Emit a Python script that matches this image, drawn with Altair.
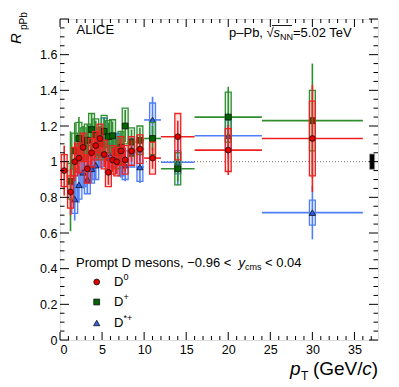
import altair as alt
import pandas as pd

# ---------------- data ----------------
# D0
d0_lo = [0, 1, 1.5, 2, 2.5, 3, 3.5, 4, 4.5, 5, 5.5, 6, 6.5, 7, 7.5, 8, 9, 10, 12, 16, 24]
d0_hi = [1, 1.5, 2, 2.5, 3, 3.5, 4, 4.5, 5, 5.5, 6, 6.5, 7, 7.5, 8, 9, 10, 12, 16, 24, 36]
d0_r = [0.95, 0.83, 1.00, 1.02, 1.08, 0.96, 1.05, 1.09, 1.13, 1.04, 0.94, 1.01, 1.00, 1.06, 1.01, 1.06, 1.07, 1.02, 1.14, 1.065, 1.13]
d0_stat = [0.14, 0.13, 0.11, 0.09, 0.08, 0.08, 0.07, 0.07, 0.07, 0.07, 0.07, 0.07, 0.07, 0.07, 0.07, 0.06, 0.07, 0.06, 0.09, 0.14, 0.30]
d0_sys = [0.09, 0.09, 0.08, 0.08, 0.08, 0.08, 0.08, 0.08, 0.08, 0.08, 0.08, 0.08, 0.08, 0.08, 0.08, 0.08, 0.08, 0.09, 0.13, 0.12, 0.21]

# D+
dp_lo = [1, 1.5, 2, 2.5, 3, 3.5, 4, 4.5, 5, 5.5, 6, 6.5, 7, 7.5, 8, 9, 10, 12, 16, 24]
dp_hi = [1.5, 2, 2.5, 3, 3.5, 4, 4.5, 5, 5.5, 6, 6.5, 7, 7.5, 8, 9, 10, 12, 16, 24, 36]
dp_r = [0.89, 1.06, 1.13, 1.10, 1.12, 1.18, 1.15, 1.10, 1.17, 1.14, 1.145, 1.05, 1.08, 1.20, 1.11, 1.12, 1.13, 0.96, 1.25, 1.23]
dp_stat = [0.28, 0.16, 0.12, 0.10, 0.09, 0.09, 0.08, 0.08, 0.08, 0.08, 0.08, 0.08, 0.09, 0.09, 0.07, 0.07, 0.07, 0.07, 0.17, 0.32]
dp_sys = [0.10, 0.10, 0.09, 0.09, 0.09, 0.09, 0.09, 0.09, 0.09, 0.09, 0.09, 0.09, 0.09, 0.10, 0.08, 0.08, 0.09, 0.09, 0.14, 0.17]

# D*+
ds_lo = [1.5, 2, 2.5, 3, 3.5, 4, 4.5, 5, 5.5, 6, 6.5, 7, 7.5, 8, 9, 10, 12, 16, 24]
ds_hi = [2, 2.5, 3, 3.5, 4, 4.5, 5, 5.5, 6, 6.5, 7, 7.5, 8, 9, 10, 12, 16, 24, 36]
ds_r = [0.79, 0.87, 0.94, 0.90, 0.96, 0.98, 1.05, 1.165, 1.02, 1.05, 1.08, 1.00, 0.98, 1.05, 0.97, 1.234, 0.997, 1.145, 0.714]
ds_stat = [0.12, 0.10, 0.09, 0.08, 0.08, 0.08, 0.08, 0.08, 0.08, 0.08, 0.08, 0.09, 0.09, 0.08, 0.09, 0.13, 0.13, 0.13, 0.15]
ds_sys = [0.08, 0.08, 0.08, 0.08, 0.08, 0.08, 0.08, 0.08, 0.08, 0.08, 0.08, 0.08, 0.08, 0.08, 0.08, 0.095, 0.065, 0.09, 0.07]

# normalisation uncertainty box
norm_lo, norm_hi = [36.8], [37.4]
norm_r, norm_err = [1.0], [0.043]

# axis ticks
x_major = [0, 5, 10, 15, 20, 25, 30, 35]
x_minor = [v for v in range(1, 38) if v % 5 != 0]
y_major = [0, 0.2, 0.4, 0.6, 0.8, 1.0, 1.2, 1.4, 1.6]
y_minor = [round(0.05 * k, 2) for k in range(1, 36) if k % 4 != 0]

# ---------------- layout / style ----------------
W, H = 318, 321
XMAX, YMAX = 37.8, 1.8
FONT = "Liberation Sans"
xs = alt.Scale(domain=[0, XMAX], nice=False, zero=False)
ys = alt.Scale(domain=[0, YMAX], nice=False, zero=False)
xax = alt.Axis(values=x_major, format="~g", ticks=False, tickSize=0, domain=False, grid=False,
               labelFont=FONT, labelFontSize=12.5, labelColor="black", labelPadding=3, title=None)
yax = alt.Axis(values=y_major, format="~g", ticks=False, tickSize=0, domain=False, grid=False,
               labelFont=FONT, labelFontSize=12.5, labelColor="black", labelPadding=3, title=None)

HALF_BOX = 0.35


def species(lo, hi, r, stat, sys, color, mfill, shape, msize):
    df = pd.DataFrame({"lo": lo, "hi": hi, "r": r, "stat": stat, "sys": sys})
    base = alt.Chart(df).transform_calculate(
        c="(datum.lo + datum.hi) / 2",
        bl=f"(datum.lo + datum.hi) / 2 - {HALF_BOX}",
        br=f"(datum.lo + datum.hi) / 2 + {HALF_BOX}",
        sl="datum.r - datum.sys", sh="datum.r + datum.sys",
        el="datum.r - datum.stat", eh="datum.r + datum.stat",
    )
    box = base.mark_rect(fill=color, fillOpacity=0.12, stroke=color, strokeWidth=1.3).encode(
        x=alt.X("bl:Q", scale=xs, axis=xax), x2="br:Q",
        y=alt.Y("sl:Q", scale=ys, axis=yax), y2="sh:Q")
    vline = base.mark_rule(color=color, strokeWidth=1.6).encode(
        x=alt.X("c:Q", scale=xs, axis=xax),
        y=alt.Y("el:Q", scale=ys, axis=yax), y2="eh:Q")
    hline = base.mark_rule(color=color, strokeWidth=1.6).encode(
        x=alt.X("lo:Q", scale=xs, axis=xax), x2="hi:Q",
        y=alt.Y("r:Q", scale=ys, axis=yax))
    pts = base.mark_point(shape=shape, filled=True, fill=mfill, stroke="#111111", strokeWidth=0.8,
                          opacity=1, size=msize).encode(
        x=alt.X("c:Q", scale=xs, axis=xax), y=alt.Y("r:Q", scale=ys, axis=yax))
    return [box, vline, hline, pts]


RED, RED_M = "#f02020", "#e00000"
GREEN, GREEN_M = "#2f8f2f", "#006400"
BLUE, BLUE_M = "#4f7ff5", "#2f5fe8"

layers = []

# reference line at 1
one = alt.Chart(pd.DataFrame({"v": [1.0]})).mark_rule(color="#777777", strokeDash=[1, 2], strokeWidth=1).encode(
    y=alt.Y("v:Q", scale=ys, axis=yax))
layers.append(one)

layers += species(ds_lo, ds_hi, ds_r, ds_stat, ds_sys, BLUE, BLUE_M, "triangle-up", 40)
layers += species(dp_lo, dp_hi, dp_r, dp_stat, dp_sys, GREEN, GREEN_M, "square", 34)
layers += species(d0_lo, d0_hi, d0_r, d0_stat, d0_sys, RED, RED_M, "circle", 34)

# normalisation box
ndf = pd.DataFrame({"lo": norm_lo, "hi": norm_hi, "r": norm_r, "e": norm_err})
layers.append(alt.Chart(ndf).transform_calculate(a="datum.r - datum.e", b="datum.r + datum.e")
              .mark_rect(fill="black", stroke="#999999", strokeWidth=0.8)
              .encode(x=alt.X("lo:Q", scale=xs, axis=xax), x2="hi:Q",
                      y=alt.Y("a:Q", scale=ys, axis=yax), y2="b:Q"))


# ticks on all four sides, pointing inwards
def xticks(vals, L):
    d = pd.DataFrame({"v": vals})
    b = alt.Chart(d).mark_rule(color="black", strokeWidth=1).encode(
        x=alt.X("v:Q", scale=xs, axis=xax), y=alt.value(H), y2=alt.value(H - L))
    t = alt.Chart(d).mark_rule(color="black", strokeWidth=1).encode(
        x=alt.X("v:Q", scale=xs, axis=xax), y=alt.value(0), y2=alt.value(L))
    return [b, t]


def yticks(vals, L):
    d = pd.DataFrame({"v": vals})
    l = alt.Chart(d).mark_rule(color="black", strokeWidth=1).encode(
        y=alt.Y("v:Q", scale=ys, axis=yax), x=alt.value(0), x2=alt.value(L))
    r = alt.Chart(d).mark_rule(color="black", strokeWidth=1).encode(
        y=alt.Y("v:Q", scale=ys, axis=yax), x=alt.value(W), x2=alt.value(W - L))
    return [l, r]


layers += xticks(x_major, 8) + xticks(x_minor, 4)
layers += yticks(y_major + [1.8], 9) + yticks(y_minor, 4.5)


# ---------------- text ----------------
def txt(s, x, y, size=13, style="normal", align="left", angle=0, baseline="alphabetic"):
    return alt.Chart(pd.DataFrame({"t": [s]})).mark_text(
        x=x, y=y, font=FONT, fontSize=size, fontStyle=style, align=align, angle=angle,
        baseline=baseline, color="black").encode(text="t:N")


def marker(x, y, shape, fill, size):
    return alt.Chart(pd.DataFrame({"k": [0]})).mark_point(
        x=x, y=y, shape=shape, filled=True, fill=fill, stroke="#111111", strokeWidth=0.8,
        opacity=1, size=size).encode(opacity=alt.value(1))


layers.append(txt("ALICE", 16.5, 15, 13))
# p–Pb, √sNN = 5.02 TeV
tx = 169
layers.append(txt("p–Pb, √", tx, 18, 13))
layers.append(txt("s", tx + 44.5, 18, 13, "italic"))
layers.append(txt("NN", tx + 51, 21, 9))
layers.append(txt("=5.02 TeV", tx + 64, 18, 13))
layers.append(alt.Chart(pd.DataFrame({"k": [0]})).mark_rule(color="black", strokeWidth=0.9).encode(
    x=alt.value(tx + 43), x2=alt.value(tx + 63), y=alt.value(6.5)))

# legend
lx = 16
layers.append(txt("Prompt D mesons, −0.96 <", lx, 248, 13))
layers.append(txt("y", lx + 162.5, 248, 13, "italic"))
layers.append(txt("cms", lx + 169, 251, 9))
layers.append(txt("<  0.04", lx + 189, 248, 13))

layers.append(marker(36.7, 263, "circle", RED_M, 34))
layers.append(marker(36.7, 283, "square", GREEN_M, 34))
layers.append(marker(36.7, 304, "triangle-up", BLUE_M, 40))
layers.append(txt("D", 54, 267, 13))
layers.append(txt("0", 63.5, 261, 9))
layers.append(txt("D", 54, 287, 13))
layers.append(txt("+", 63.5, 281, 9))
layers.append(txt("D", 54, 308, 13))
layers.append(txt("*+", 63.5, 302, 9))

# axis titles
layers.append(txt("R", -39, 25, 15, "italic", angle=270))
layers.append(txt("pPb", -33, 11, 10, angle=270))

TB = 356
layers.append(txt(")", 318, TB, 19, align="right"))
layers.append(txt("c", 311.7, TB, 19, "italic", align="right"))
layers.append(txt("(GeV/", 302.5, TB, 19, align="right"))
layers.append(txt("T", 241, TB + 5, 12, align="left"))
layers.append(txt("p", 240.5, TB, 19, "italic", align="right"))

chart = alt.layer(*layers).properties(
    width=W, height=H,
    autosize=alt.AutoSizeParams(type="none"),
    padding={"left": 52, "top": 11, "right": 13, "bottom": 47},
).configure_view(stroke="black", strokeWidth=1).configure(background="white")

chart.save("out.html", embed_options={"renderer": "svg", "actions": False})
